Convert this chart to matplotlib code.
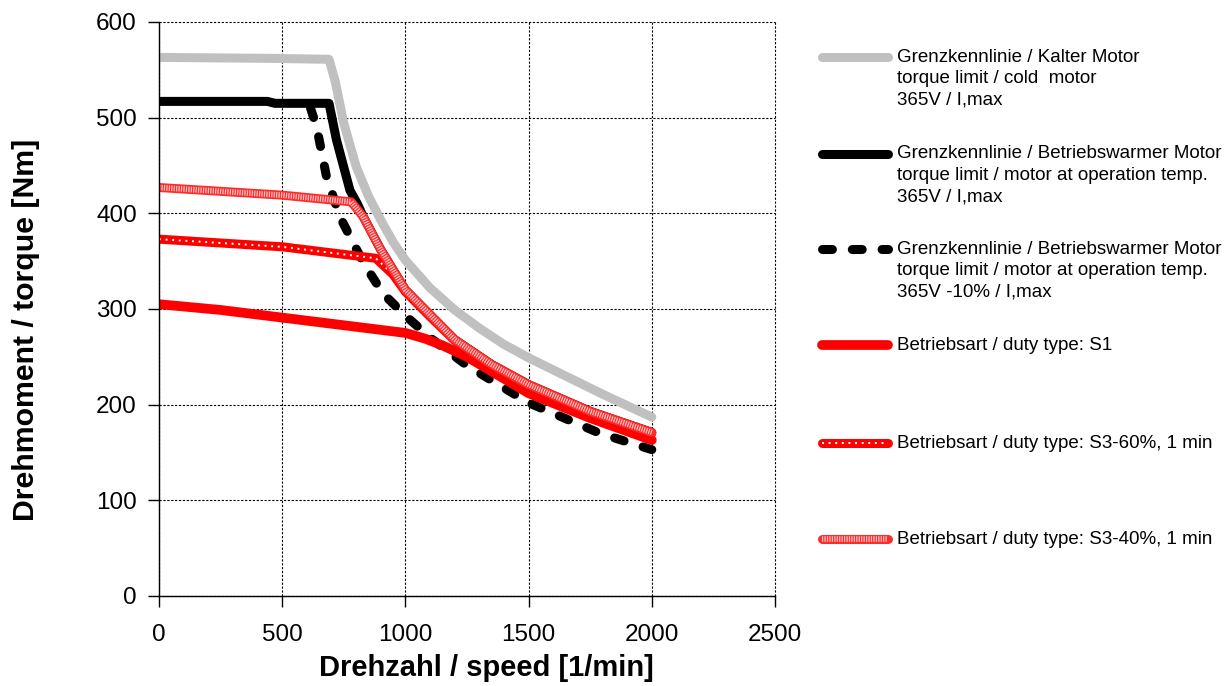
import matplotlib
matplotlib.use("Agg")
import matplotlib.pyplot as plt
from matplotlib.lines import Line2D

plt.rcParams["font.family"] = ["Liberation Sans", "DejaVu Sans"]

# Torque/speed characteristics [1/min] -> [Nm]
cold_rpm = [0, 450, 690, 715, 750, 800, 850, 900, 950, 1000, 1100, 1200, 1300, 1400, 1500, 1650, 1800, 2000]
cold_nm = [563, 562, 561, 538, 494, 449, 418, 393, 370, 351, 322, 299, 280, 263, 249, 230, 211, 187]

warm_rpm = [0, 440, 470, 690, 720, 775, 805, 830, 900, 1000, 1100, 1200, 1350, 1500, 1750, 2000]
warm_nm = [517, 517, 515, 515, 477, 424, 410, 396, 362, 320, 294, 268, 242, 221, 193, 171]

warm10_rpm = [615, 640, 680, 735, 830, 910, 1000, 1110, 1250, 1500, 1790, 2000]
warm10_nm = [510, 490, 438, 396, 348, 316, 293, 268, 241, 202, 170, 153]

s1_rpm = [0, 250, 500, 750, 1000, 1080, 1150, 1250, 1500, 1750, 2000]
s1_nm = [305, 299, 291, 283, 275, 269, 262, 250, 212, 186, 163]

s3_60_rpm = [0, 500, 880, 950, 1000, 1100, 1200, 1350, 1500, 1750, 2000]
s3_60_nm = [373, 365, 353, 336, 318, 292, 267, 241, 220, 192, 170]

s3_40_rpm = [0, 500, 780, 830, 900, 1000, 1100, 1200, 1350, 1500, 1750, 2000]
s3_40_nm = [427, 419, 412, 396, 362, 320, 294, 268, 242, 221, 193, 171]

x_ticks = [0, 500, 1000, 1500, 2000, 2500]
y_ticks = [0, 100, 200, 300, 400, 500, 600]

labels = [
    "Grenzkennlinie / Kalter Motor\ntorque limit / cold  motor\n365V / I,max",
    "Grenzkennlinie / Betriebswarmer Motor\ntorque limit / motor at operation temp.\n365V / I,max",
    "Grenzkennlinie / Betriebswarmer Motor\ntorque limit / motor at operation temp.\n365V -10% / I,max",
    "Betriebsart / duty type: S1",
    "Betriebsart / duty type: S3-60%, 1 min",
    "Betriebsart / duty type: S3-40%, 1 min",
]

W, H = 1230, 686
fig = plt.figure(figsize=(W / 100, H / 100), dpi=100)
ax = fig.add_axes([159 / W, 90 / H, 616 / W, 574 / H])

LW = 6.5
GRAY = "#c0c0c0"
RED = "#ff0000"

# line style recipes: layers drawn on top of each other per series
styles = [
    [dict(color=GRAY, lw=LW, solid_capstyle="round", solid_joinstyle="round")],
    [dict(color="black", lw=LW, solid_capstyle="round", solid_joinstyle="round")],
    [dict(color="black", lw=LW, linestyle=(0, (1.1, 2.2)), dash_capstyle="round",
          dash_joinstyle="round")],
    [dict(color=RED, lw=LW + 0.5, solid_capstyle="round", solid_joinstyle="round")],
    [dict(color=RED, lw=LW, solid_capstyle="round", solid_joinstyle="round"),
     dict(color="white", lw=1.4, linestyle=(0, (1.0, 2.4)))],
    [dict(color="#ff2a2a", lw=LW, solid_capstyle="round", solid_joinstyle="round"),
     dict(color="#ffc8c8", lw=LW - 2.5, linestyle=(0, (0.22, 0.22)))],
]

series = [
    (cold_rpm, cold_nm),
    (warm_rpm, warm_nm),
    (warm10_rpm, warm10_nm),
    (s1_rpm, s1_nm),
    (s3_60_rpm, s3_60_nm),
    (s3_40_rpm, s3_40_nm),
]

for (xs, ys), layers in zip(series, styles):
    for kw in layers:
        ax.plot(xs, ys, **kw)

ax.set_xlim(0, 2500)
ax.set_ylim(0, 600)
ax.set_xticks(x_ticks)
ax.set_yticks(y_ticks)
ax.tick_params(axis="both", direction="out", length=8, width=1, labelsize=17.5)
ax.tick_params(axis="x", pad=12)
ax.tick_params(axis="y", pad=8)
ax.grid(True, color="black", lw=0.8, linestyle=(0, (2, 1.5)))
ax.set_axisbelow(True)
for gl in ax.get_xgridlines() + ax.get_ygridlines():
    gl.set_clip_on(False)
for side in ("top", "right"):
    ax.spines[side].set_visible(False)
for side in ("left", "bottom"):
    ax.spines[side].set_linewidth(1.0)

ax.set_xlabel("Drehzahl / speed [1/min]", fontsize=21, fontweight="bold")
ax.set_ylabel("Drehmoment / torque [Nm]", fontsize=21.8, fontweight="bold")
ax.xaxis.set_label_coords((486 - 159) / 616, -(668 - 596) / 574)
ax.yaxis.set_label_coords(-(159 - 26) / 616, (596 - 330) / 574)
ax.xaxis.label.set_va("center")
ax.yaxis.label.set_va("center")

# legend to the right of the plot
entry_y = [57, 154, 249, 345, 443, 539]
line_step = 21.5
for lab, layers, y0 in zip(labels, styles, entry_y):
    yf = 1 - y0 / H
    for kw in layers:
        fig.add_artist(Line2D([822 / W, 888 / W], [yf, yf], **kw))
    for i, part in enumerate(lab.split("\n")):
        fig.text(897 / W, 1 - (y0 + i * line_step) / H, part, fontsize=13.5,
                 va="center", ha="left")

fig.savefig("out.png", dpi=100)
